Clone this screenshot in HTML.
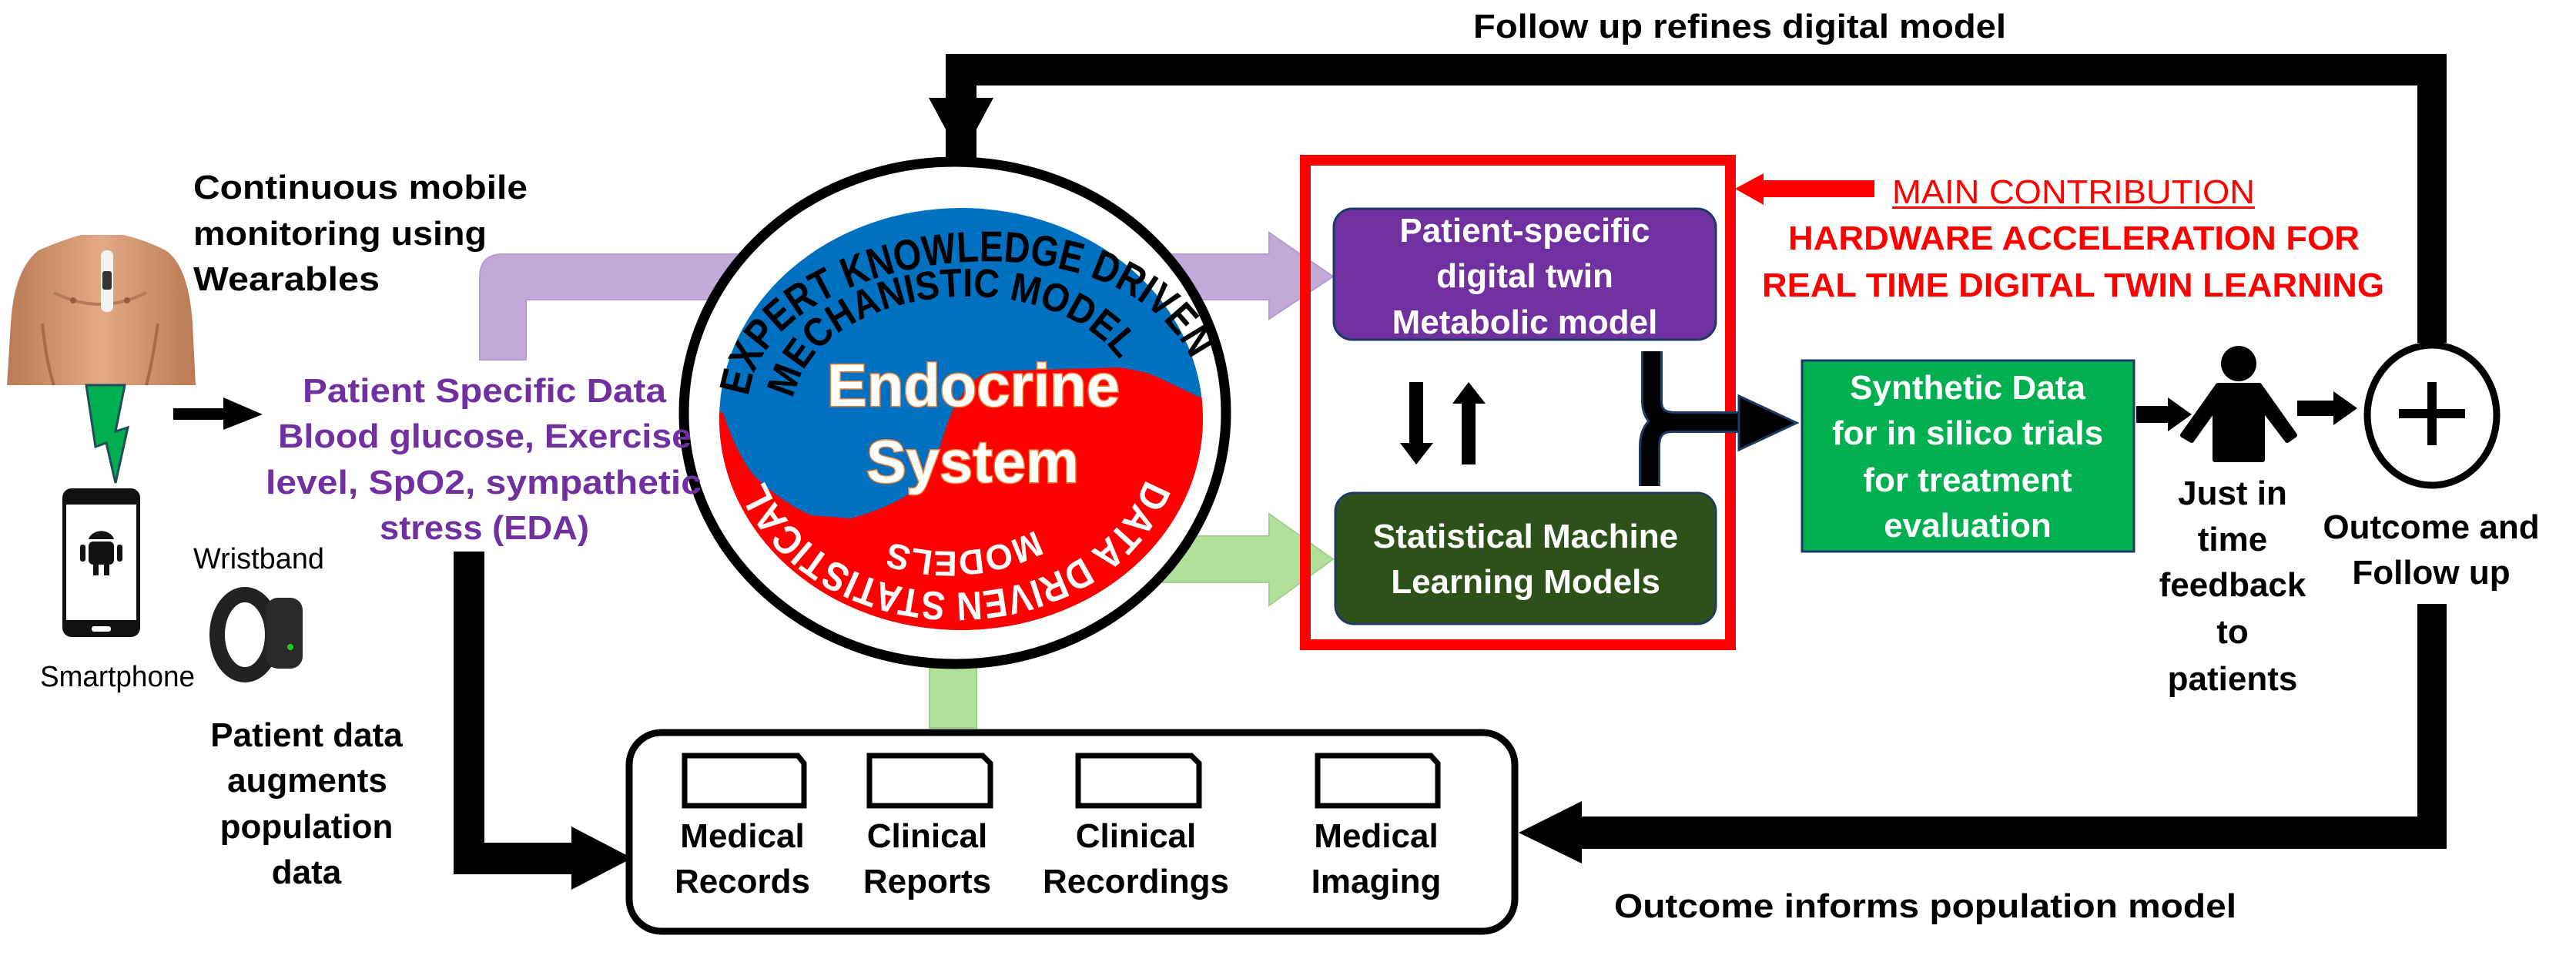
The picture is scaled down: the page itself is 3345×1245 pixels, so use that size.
<!DOCTYPE html>
<html><head><meta charset="utf-8"><style>
html,body{margin:0;padding:0;background:#fff;}
svg{display:block;}
text{font-family:"Liberation Sans Narrow","Liberation Sans",sans-serif;font-weight:bold;}
.r{font-weight:normal;}
.w{font-family:"Liberation Sans",sans-serif;}
</style></head><body>
<svg width="3345" height="1245" viewBox="0 0 3345 1245" xmlns="http://www.w3.org/2000/svg">
<defs>
<clipPath id="disc"><ellipse cx="1248" cy="544" rx="314" ry="274"/></clipPath>
<path id="arcTop" d="M 972 515 C 995 322, 1450 262, 1548 468 L 1580 560"/>
<path id="arcMid" d="M 1030 518 C 1060 362, 1380 335, 1462 480 L 1490 540"/>
<path id="arcBot" d="M 1488 622 C 1420 805, 1100 825, 1000 640 L 960 560"/>
<path id="arcIn" d="M 1345 688 Q 1245 738 1140 698 L 1100 680"/>
<linearGradient id="skin" x1="0" y1="0" x2="1" y2="0">
<stop offset="0" stop-color="#B97A55"/><stop offset="0.5" stop-color="#E2AA85"/><stop offset="1" stop-color="#B97A55"/>
</linearGradient>
</defs>

<!-- purple arrow -->
<path d="M623 467 L623 360 Q623 330 653 330 L1648 330 L1648 302 L1731 359 L1648 414 L1648 389 L683 389 L683 467 Z" fill="#C3A9D7" stroke="#B49BD0" stroke-width="2"/>
<!-- green arrow -->
<path d="M1207 945 L1207 696 L1648 696 L1648 667 L1731 726 L1648 786 L1648 756 L1268 756 L1268 945 Z" fill="#B0E09A" stroke="#A0D08A" stroke-width="2"/>

<!-- top loop -->
<path d="M1228 205 L1228 70 L3177 70 L3177 445 L3139 445 L3139 111 L1268 111 L1268 205 Z" fill="#000"/>
<polygon points="1206,127 1290,127 1248,205" fill="#000"/>
<text x="1913" y="49" font-size="44" textLength="692" lengthAdjust="spacingAndGlyphs">Follow up refines digital model</text>

<!-- big circle -->
<ellipse cx="1240" cy="536" rx="352" ry="326" fill="#fff" stroke="#000" stroke-width="13"/>
<ellipse cx="1248" cy="544" rx="314" ry="274" fill="#0070C0"/>
<g clip-path="url(#disc)">
<path d="M900 520 L939 536 Q960 600 985 623 Q1020 655 1054 669 L1105 673 Q1150 660 1176 644 Q1210 610 1222 575 Q1235 530 1248 515 Q1262 488 1290 482 L1452 477 Q1490 482 1508 492 L1556 515 L1600 520 L1600 900 L900 900 Z" fill="#FF0000"/>
</g>
<text font-size="56" fill="#000" class="w"><textPath href="#arcTop" textLength="695" lengthAdjust="spacingAndGlyphs">EXPERT KNOWLEDGE  DRIVEN</textPath></text>
<text font-size="52" fill="#000" class="w"><textPath href="#arcMid" textLength="505" lengthAdjust="spacingAndGlyphs">MECHANISTIC  MODEL</textPath></text>
<text font-size="52" fill="#fff" class="w"><textPath href="#arcBot" textLength="610" lengthAdjust="spacingAndGlyphs">DATA DRIVEN  STATISTICAL</textPath></text>
<text font-size="46" fill="#fff" class="w"><textPath href="#arcIn" textLength="195" lengthAdjust="spacingAndGlyphs">MODELS</textPath></text>
<text x="1074" y="527" font-size="78" fill="#fff" stroke="#ED7D31" stroke-width="3" paint-order="stroke" class="w" textLength="380" lengthAdjust="spacingAndGlyphs">Endocrine</text>
<text x="1125" y="626" font-size="78" fill="#fff" stroke="#ED7D31" stroke-width="3" paint-order="stroke" class="w" textLength="276" lengthAdjust="spacingAndGlyphs">System</text>

<!-- left side: torso -->
<path d="M9 500 L14 420 Q18 350 50 325 Q80 312 105 305 L160 305 Q190 312 215 325 Q245 345 250 420 L254 500 Z" fill="url(#skin)"/>
<path d="M55 420 Q60 470 70 500 M205 420 Q198 470 190 500" stroke="#A86A48" stroke-width="4" fill="none"/>
<path d="M70 380 Q130 410 190 380" stroke="#B57A58" stroke-width="4" fill="none"/>
<circle cx="95" cy="390" r="4" fill="#9a5a40"/><circle cx="165" cy="390" r="4" fill="#9a5a40"/>
<rect x="131" y="325" width="16" height="80" rx="7" fill="#f2f2f2"/>
<rect x="133" y="352" width="12" height="24" rx="3" fill="#333"/>
<polygon points="112,500 162,500 150,560 166,555 150,627 138,575 124,580" fill="#00B050" stroke="#1F4E5A" stroke-width="3"/>
<rect x="81" y="634" width="101" height="193" rx="12" fill="#111"/>
<rect x="86" y="655" width="91" height="150" fill="#fff"/>
<rect x="115" y="703" width="33" height="30" rx="6" fill="#111"/>
<rect x="104" y="707" width="7" height="22" rx="3" fill="#111"/>
<rect x="152" y="707" width="7" height="22" rx="3" fill="#111"/>
<path d="M115 700 A17 14 0 0 1 148 700 Z" fill="#111"/>
<rect x="121" y="733" width="7" height="14" fill="#111"/>
<rect x="135" y="733" width="7" height="14" fill="#111"/>
<rect x="119" y="813" width="25" height="7" rx="3" fill="#fff"/>
<ellipse cx="318" cy="824" rx="36" ry="52" fill="none" stroke="#222" stroke-width="20"/>
<rect x="345" y="776" width="48" height="92" rx="16" fill="#2a2a2a"/>
<circle cx="377" cy="840" r="4" fill="#2c2"/>

<text x="251" y="258" font-size="44" textLength="434" lengthAdjust="spacingAndGlyphs">Continuous mobile</text>
<text x="251" y="318" font-size="44" textLength="381" lengthAdjust="spacingAndGlyphs">monitoring using</text>
<text x="251" y="377" font-size="44" textLength="242" lengthAdjust="spacingAndGlyphs">Wearables</text>

<polygon points="225,530 290,530 290,516 341,538 290,558 290,545 225,545" fill="#000"/>

<g fill="#7030A0" font-size="44">
<text x="393" y="522" textLength="472" lengthAdjust="spacingAndGlyphs">Patient Specific Data</text>
<text x="361" y="581" textLength="537" lengthAdjust="spacingAndGlyphs">Blood glucose, Exercise</text>
<text x="345" y="641" textLength="566" lengthAdjust="spacingAndGlyphs">level, SpO2, sympathetic</text>
<text x="493" y="700" textLength="272" lengthAdjust="spacingAndGlyphs">stress (EDA)</text>
</g>
<text x="251" y="738" font-size="38" class="r" textLength="170" lengthAdjust="spacingAndGlyphs">Wristband</text>
<text x="52" y="891" font-size="38" class="r" textLength="201" lengthAdjust="spacingAndGlyphs">Smartphone</text>
<g font-size="44" text-anchor="middle">
<text x="398" y="969">Patient data</text>
<text x="399" y="1028">augments</text>
<text x="398" y="1088">population</text>
<text x="398" y="1147">data</text>
</g>

<!-- L arrow to box -->
<path d="M589 716 L629 716 L629 1094 L742 1094 L742 1073 L821 1114 L742 1155 L742 1135 L589 1135 Z" fill="#000"/>

<!-- bottom box -->
<rect x="817" y="951" width="1150" height="258" rx="42" fill="#fff" stroke="#000" stroke-width="9"/>
<g fill="none" stroke="#000" stroke-width="7">
<path d="M889 981 L1036 981 L1044 991 L1044 1046 L889 1046 Z"/>
<path d="M1129 981 L1276 981 L1286 991 L1286 1046 L1129 1046 Z"/>
<path d="M1400 981 L1547 981 L1557 991 L1557 1046 L1400 1046 Z"/>
<path d="M1711 981 L1858 981 L1867 991 L1867 1046 L1711 1046 Z"/>
</g>
<g font-size="44" text-anchor="middle">
<text x="964" y="1100">Medical</text><text x="964" y="1159">Records</text>
<text x="1204" y="1100">Clinical</text><text x="1204" y="1159">Reports</text>
<text x="1475" y="1100">Clinical</text><text x="1475" y="1159">Recordings</text>
<text x="1787" y="1100">Medical</text><text x="1787" y="1159">Imaging</text>
</g>

<!-- red box -->
<rect x="1695" y="208" width="552" height="629" fill="none" stroke="#FF0000" stroke-width="14"/>
<rect x="1732" y="271" width="496" height="170" rx="24" fill="#7030A0" stroke="#1F3864" stroke-width="3"/>
<g fill="#fff" font-size="44" text-anchor="middle">
<text x="1980" y="314">Patient-specific</text>
<text x="1980" y="373">digital twin</text>
<text x="1980" y="433">Metabolic model</text>
</g>
<rect x="1734" y="640" width="494" height="170" rx="24" fill="#2E5119" stroke="#1F3864" stroke-width="3"/>
<g fill="#fff" font-size="44" text-anchor="middle">
<text x="1981" y="711">Statistical Machine</text>
<text x="1981" y="770">Learning Models</text>
</g>
<polygon points="1830,496 1848,496 1848,575 1861,575 1839,603 1818,575 1830,575" fill="#000"/>
<polygon points="1898,603 1916,603 1916,524 1929,524 1907,496 1886,524 1898,524" fill="#000"/>

<!-- merge connector -->
<path d="M2145 456 L2145 520 Q2145 548 2175 548 L2262 548 M2142 631 L2142 580 Q2142 548 2172 548" fill="none" stroke="#1F3864" stroke-width="28"/>
<path d="M2145 456 L2145 520 Q2145 548 2175 548 L2262 548 M2142 631 L2142 580 Q2142 548 2172 548" fill="none" stroke="#000" stroke-width="22"/>
<polygon points="2258,514 2333,549 2258,584" fill="#000" stroke="#1F3864" stroke-width="3"/>

<text x="2457" y="264" font-size="44" class="r" fill="#FF0000" textLength="471" lengthAdjust="spacingAndGlyphs">MAIN CONTRIBUTION</text>
<rect x="2457" y="268" width="471" height="3" fill="#FF0000"/>
<polygon points="2253,245 2290,225 2290,234 2434,234 2434,256 2290,256 2290,266" fill="#FF0000"/>
<text x="2322" y="324" font-size="44" fill="#FF0000" textLength="742" lengthAdjust="spacingAndGlyphs">HARDWARE ACCELERATION FOR</text>
<text x="2288" y="385" font-size="44" fill="#FF0000" textLength="808" lengthAdjust="spacingAndGlyphs">REAL TIME DIGITAL TWIN LEARNING</text>

<rect x="2340" y="468" width="431" height="248" fill="#00B050" stroke="#1F3864" stroke-width="3"/>
<g fill="#fff" font-size="44" text-anchor="middle">
<text x="2555" y="518">Synthetic Data</text>
<text x="2555" y="577">for in silico trials</text>
<text x="2555" y="638">for treatment</text>
<text x="2555" y="697">evaluation</text>
</g>

<polygon points="2774,527 2815,527 2815,516 2846,538 2815,560 2815,549 2774,549" fill="#000"/>
<!-- person -->
<ellipse cx="2907" cy="472" rx="23" ry="23" fill="#000"/>
<path d="M2880 500 L2934 500 L2980 565 L2970 572 L2938 530 L2938 597 L2876 597 L2876 530 L2846 572 L2834 565 Z" fill="#000" stroke="#000" stroke-width="6" stroke-linejoin="round"/>
<polygon points="2983,520 3030,520 3030,508 3061,530 3030,552 3030,540 2983,540" fill="#000"/>

<ellipse cx="3158" cy="539" rx="84" ry="91" fill="#fff" stroke="#000" stroke-width="9"/>
<rect x="3115" y="531" width="86" height="12" fill="#000"/>
<rect x="3152" y="496" width="12" height="82" fill="#000"/>

<g font-size="44" text-anchor="middle">
<text x="2899" y="655">Just in</text>
<text x="2899" y="715">time</text>
<text x="2899" y="774">feedback</text>
<text x="2899" y="835">to</text>
<text x="2899" y="896">patients</text>
<text x="3157" y="699">Outcome and</text>
<text x="3157" y="758">Follow up</text>
</g>

<!-- bottom loop -->
<path d="M3139 784 L3177 784 L3177 1102 L2052 1102 L2052 1060 L3139 1060 Z" fill="#000"/>
<polygon points="2054,1040 2054,1121 1972,1081" fill="#000"/>
<text x="2096" y="1191" font-size="44" textLength="808" lengthAdjust="spacingAndGlyphs">Outcome informs population model</text>
</svg>
</body></html>
